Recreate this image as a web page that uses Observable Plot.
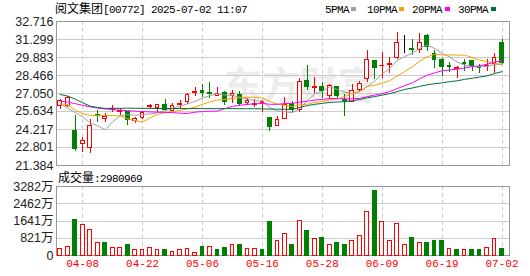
<!DOCTYPE html>
<html><head><meta charset="utf-8">
<script src="https://cdn.jsdelivr.net/npm/d3@7"></script>
<script src="https://cdn.jsdelivr.net/npm/@observablehq/plot@0.6"></script>
<style>
html,body{margin:0;padding:0;background:#fff;}
#wrap{position:relative;width:530px;height:276px;overflow:hidden;background:#fff;}
#wrap svg{position:absolute;left:0;}
.t{position:absolute;line-height:12px;white-space:nowrap;color:#000;z-index:5;}
.cjk{font-family:"Noto Sans CJK SC";font-size:12px;}
.mono{font-family:"Liberation Mono";font-size:11px;letter-spacing:-0.6px;}
.sw{position:absolute;width:5px;height:4px;top:7px;z-index:5;}
</style></head>
<body><div id="wrap"></div>
<script>
const dates = ["04-02","04-03","04-07","04-08","04-09","04-10","04-11","04-14","04-15","04-16","04-17","04-22","04-23","04-24","04-25","04-28","04-29","04-30",
"05-02","05-06","05-07","05-08","05-09","05-12","05-13","05-14","05-15","05-16","05-19","05-20","05-21","05-22","05-23","05-26","05-27","05-28","05-29","05-30",
"06-02","06-03","06-04","06-05","06-06","06-09","06-10","06-11","06-12","06-13","06-16","06-17","06-18","06-19","06-20","06-23","06-24","06-25","06-26","06-27","06-30","07-02"];
const open  = [26.05,26.10,24.06,23.06,22.75,25.37,25.06,25.75,25.59,25.56,24.89,25.16,25.95,25.87,26.16,25.71,26.16,26.37,27.07,27.23,27.07,26.82,27.11,26.89,26.92,26.29,26.15,26.34,25.14,24.49,25.03,26.24,25.75,28.00,27.50,27.60,26.84,27.58,26.54,26.37,27.29,28.21,29.57,29.18,29.28,29.83,31.10,30.57,30.51,31.54,30.14,29.65,29.25,28.99,29.47,29.62,29.07,29.20,29.41,31.06];
const high  = [26.60,26.85,25.32,23.61,24.98,25.75,25.48,26.11,25.87,25.67,25.20,25.63,26.21,26.19,26.58,26.26,26.50,27.03,27.50,27.73,27.89,27.52,27.21,27.29,27.21,26.68,26.58,26.50,25.20,25.24,26.71,26.42,28.25,29.25,28.30,27.89,27.73,27.60,26.95,27.73,28.00,30.43,29.65,30.25,29.91,31.83,31.61,31.30,31.75,31.67,30.41,29.78,29.47,29.20,29.69,29.65,29.37,29.69,30.20,31.30];
const low   = [25.77,25.95,22.51,22.38,22.35,24.73,24.77,25.56,25.32,24.57,24.65,25.00,25.79,25.56,25.67,25.63,25.85,26.21,26.84,26.71,26.68,26.82,26.11,26.29,26.00,26.11,25.97,25.58,24.08,24.45,25.03,25.53,25.53,27.29,27.07,26.63,26.68,26.68,25.24,26.32,27.15,27.94,28.15,28.21,28.60,29.69,30.22,30.04,30.17,30.36,28.99,28.41,28.68,28.25,28.82,28.80,28.60,28.78,28.66,29.33];
const close = [26.44,26.73,22.70,23.33,24.51,25.26,25.19,25.83,25.67,24.93,25.08,25.48,26.03,26.15,25.75,26.07,26.24,26.95,27.13,27.07,26.99,27.03,26.42,27.03,26.24,26.48,26.19,26.37,24.40,24.98,26.16,25.79,27.97,27.55,27.58,27.21,27.63,26.84,26.48,27.23,27.81,29.65,29.04,29.23,29.35,31.04,31.10,30.49,31.04,30.69,29.65,29.12,29.17,29.04,29.39,29.20,29.02,29.25,29.86,29.45];
// volume in 万 shares
const volume = [317,428,1665,1427,1221,618,618,365,365,523,238,270,365,238,238,143,270,317,111,428,428,238,365,476,476,317,317,285,1570,698,999,523,1649,1189,793,809,523,618,523,666,904,2078,3060,1601,666,1475,476,809,618,587,666,666,317,270,270,238,270,365,793,298];
// 1 = red (up) bar, 0 = green (down) bar
const volumeUp = [1,1,0,1,1,1,0,1,1,0,1,1,1,1,0,1,1,1,1,0,1,0,0,1,0,1,1,0,0,1,1,0,1,0,1,0,1,0,0,1,1,1,0,1,1,1,1,0,1,0,0,0,1,0,1,0,0,1,1,0];
const ma5  = [26.20,25.90,25.55,25.20,24.74,24.51,24.20,24.82,25.29,25.38,25.34,25.40,25.44,25.53,25.70,25.90,26.05,26.23,26.43,26.69,26.88,27.03,26.93,26.91,26.74,26.64,26.47,26.46,25.94,25.68,25.62,25.54,25.86,26.49,27.01,27.22,27.59,27.36,27.15,27.08,27.20,27.60,28.04,28.59,29.02,29.66,29.95,30.24,30.60,30.87,30.59,30.20,29.93,29.53,29.27,29.18,29.16,29.18,29.34,29.36];
const ma10 = [26.25,26.15,25.75,25.45,25.33,25.33,25.32,25.32,25.28,25.06,24.92,24.80,25.13,25.41,25.54,25.62,25.72,25.84,25.98,26.20,26.39,26.54,26.58,26.67,26.72,26.76,26.75,26.70,26.42,26.21,26.13,26.01,26.16,26.21,26.35,26.42,26.56,26.61,26.82,27.04,27.21,27.60,27.70,27.87,28.05,28.43,28.78,29.14,29.60,29.94,30.13,30.08,30.09,30.07,30.07,29.89,29.68,29.56,29.44,29.31];
const ma20 = [26.45,26.38,26.25,26.12,26.00,25.90,25.83,25.78,25.74,25.70,25.66,25.63,25.60,25.58,25.56,25.55,25.50,25.48,25.58,25.63,25.66,25.67,25.86,26.04,26.13,26.19,26.24,26.27,26.20,26.20,26.26,26.27,26.37,26.44,26.53,26.59,26.66,26.65,26.62,26.63,26.67,26.80,26.93,27.04,27.20,27.43,27.67,27.88,28.21,28.49,28.67,28.84,28.90,28.97,29.06,29.16,29.23,29.35,29.52,29.63];
const ma30 = [26.97,26.85,26.60,26.32,26.05,25.95,25.88,25.89,25.88,25.90,25.89,25.88,25.88,25.87,25.87,25.87,25.87,25.86,25.86,25.86,25.86,25.86,25.86,25.86,25.85,25.85,25.85,25.84,25.82,25.82,25.81,25.80,25.96,26.10,26.20,26.27,26.35,26.38,26.41,26.48,26.58,26.71,26.81,26.92,27.04,27.20,27.37,27.48,27.61,27.73,27.82,27.89,27.98,28.05,28.16,28.25,28.34,28.44,28.62,28.77];
const priceTickLabels = ["32.716","31.299","29.883","28.466","27.050","25.634","24.217","22.801","21.384"];
const volumeTickValues = [3282,2462,1641,821,0];
const volumeTickLabels = ["3282万","2462万","1641万","821万","0"];
const dateTicks = ["04-08","04-22","05-06","05-16","05-28","06-09","06-19","07-02"];
const maNames = ["5PMA","10PMA","20PMA","30PMA"];
const maColors = ["#a0a0a0","#f5a300","#ff00ff","#00703a"];
const title = "阅文集团";
const code = "[00772] 2025-07-02 11:07";
const volumeNow = "2980969";

const RED = "#ff0000", GREEN = "#008000";
const rows = dates.map((d, i) => ({
  i, date: d, open: open[i], high: high[i], low: low[i], close: close[i],
  vol: volume[i], volUp: volumeUp[i],
  ma5: ma5[i], ma10: ma10[i], ma20: ma20[i], ma30: ma30[i]
}));
const candleColor = d => d.close > d.open ? RED : d.close < d.open ? GREEN : "#000000";
const candleFill = d => d.close > d.open ? "#ffffff" : d.close < d.open ? GREEN : "#000000";
const tickIdx = dateTicks.map(t => dates.indexOf(t));
const priceTicks = priceTickLabels.map(Number);
const priceLabel = new Map(priceTicks.map((v, k) => [v, priceTickLabels[k]]));
const volLabel = new Map(volumeTickValues.map((v, k) => [v, volumeTickLabels[k]]));
const crisp = {shapeRendering: "crispEdges"};
const axisStyle = {background: "transparent", overflow: "visible", fontFamily: "'Liberation Sans', 'Noto Sans CJK SC'", fontSize: "12.5px", color: "#222"};
const xScale = {type: "linear", domain: [-0.5, 60], axis: null};

const main = Plot.plot({
  width: 530, height: 156, marginTop: 7, marginBottom: 5, marginLeft: 56, marginRight: 21,
  style: axisStyle,
  x: xScale,
  y: {domain: [21.384, 32.716], ticks: priceTicks, tickFormat: d => priceLabel.get(d), tickSize: 0, tickPadding: 3, label: null},
  marks: [
    Plot.text([title + "财富"], {x: 32, y: 27.6, text: () => "东方财富", fontSize: 38, fontWeight: "bold", fill: "#ececec", fontFamily: "Noto Sans CJK SC"}),
    Plot.ruleY(priceTicks, {stroke: "#cccccc", ...crisp}),
    Plot.ruleX(tickIdx, {stroke: "#cccccc", strokeDasharray: "4,3", ...crisp}),
    Plot.frame({stroke: "#999999", ...crisp}),
    Plot.ruleX(rows, {x: "i", y1: "low", y2: "high", stroke: candleColor, ...crisp}),
    Plot.rect(rows, {x1: d => d.i - 0.25, x2: d => d.i + 0.25, y1: "open", y2: "close", fill: candleFill, stroke: candleColor, ...crisp}),
    Plot.line(rows, {x: "i", y: "ma5", stroke: maColors[0], strokeWidth: 1}),
    Plot.line(rows, {x: "i", y: "ma10", stroke: maColors[1], strokeWidth: 1}),
    Plot.line(rows, {x: "i", y: "ma20", stroke: maColors[2], strokeWidth: 1}),
    Plot.line(rows, {x: "i", y: "ma30", stroke: maColors[3], strokeWidth: 1})
  ]
});
main.style.top = "14px";

const vol = Plot.plot({
  width: 530, height: 97, marginTop: 7, marginBottom: 21, marginLeft: 56, marginRight: 21,
  style: axisStyle,
  x: xScale,
  y: {domain: [0, 3282], ticks: volumeTickValues, tickFormat: d => volLabel.get(d), tickSize: 0, tickPadding: 3, label: null},
  marks: [
    Plot.ruleY(volumeTickValues, {stroke: "#cccccc", ...crisp}),
    Plot.ruleX(tickIdx, {stroke: "#cccccc", strokeDasharray: "4,3", ...crisp}),
    Plot.frame({stroke: "#999999", ...crisp}),
    Plot.rect(rows, {x1: d => d.i - 0.25, x2: d => d.i + 0.25, y1: 0, y2: "vol",
      fill: d => d.volUp ? "#ffffff" : GREEN, stroke: d => d.volUp ? RED : GREEN, ...crisp}),
    Plot.text(dateTicks, {x: d => dates.indexOf(d), text: d => d, frameAnchor: "bottom", dy: 11, fill: RED, fontFamily: "Liberation Mono", fontSize: 11, letterSpacing: "-0.6px"})
  ]
});
vol.style.top = "179px";

const wrap = document.getElementById("wrap");
wrap.appendChild(main);
wrap.appendChild(vol);

function addText(html, left, top) {
  const el = document.createElement("div");
  el.className = "t";
  el.style.left = left + "px";
  el.style.top = top + "px";
  el.innerHTML = html;
  wrap.appendChild(el);
}
addText(`<span class="cjk">${title}</span><span class="mono">${code}</span>`, 55, 2);
const legendX = [325, 367, 412, 458];
const swatchX = [351, 398.5, 444.5, 490.5];
maNames.forEach((n, k) => {
  addText(`<span class="mono">${n}</span>`, legendX[k], 2);
  const s = document.createElement("div");
  s.className = "sw";
  s.style.left = swatchX[k] + "px";
  s.style.background = maColors[k];
  wrap.appendChild(s);
});
addText(`<span class="cjk">成交量</span><span class="mono">:${volumeNow}</span>`, 58, 171);
</script></body></html>
